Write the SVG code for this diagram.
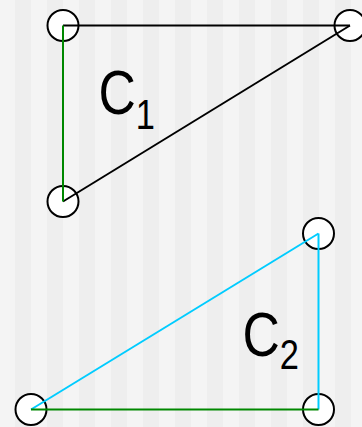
<svg xmlns="http://www.w3.org/2000/svg" width="362" height="427" viewBox="0 0 362 427">
<defs>
<pattern id="stripes" x="15" y="0" width="32" height="427" patternUnits="userSpaceOnUse">
<rect x="0" y="0" width="16" height="427" fill="#eeeeee"/>
<rect x="16" y="0" width="16" height="427" fill="#f4f4f4"/>
</pattern>
</defs>
<style>
.node{fill:#ffffff;stroke:#000000;stroke-width:2}
.lbl{font-family:"Liberation Sans",Arial,sans-serif;fill:#000000}
.big{font-size:63px}
.sub{font-size:42px}
.edge{fill:none;stroke-width:2}
</style>
<rect x="0" y="0" width="362" height="427" fill="url(#stripes)"/>
<g id="nodes-circles">
<g id="n1"><circle class="node" cx="63" cy="25.5" r="15.5"/></g>
<g id="n2"><circle class="node" cx="350" cy="25.5" r="15.5"/></g>
<g id="n3"><circle class="node" cx="63" cy="201.5" r="15.5"/></g>
<g id="n4"><circle class="node" cx="318.5" cy="233.5" r="15.5"/></g>
<g id="n5"><circle class="node" cx="31" cy="409.5" r="15.5"/></g>
<g id="n6"><circle class="node" cx="318.5" cy="409.5" r="15.5"/></g>
</g>
<g id="connectors">
<line class="edge" x1="63" y1="25.5" x2="350" y2="25.5" stroke="#000000"/>
<line class="edge" x1="350" y1="25.5" x2="63" y2="201.5" stroke="#000000"/>
<line class="edge" x1="63" y1="25.5" x2="63" y2="201.5" stroke="#008800"/>
<line class="edge" x1="318.5" y1="233.5" x2="31" y2="409.5" stroke="#00ccff"/>
<line class="edge" x1="318.5" y1="233.5" x2="318.5" y2="409.5" stroke="#00ccff"/>
<line class="edge" x1="31" y1="409.5" x2="318.5" y2="409.5" stroke="#008800"/>
</g>
<g id="label-c1" transform="translate(98.4,113.5) scale(0.82,1)"><text class="lbl big" x="0" y="0">C<tspan class="sub" y="15.5">1</tspan></text></g>
<g id="label-c2" transform="translate(242.4,356) scale(0.82,1)"><text class="lbl big" x="0" y="0">C<tspan class="sub" y="13">2</tspan></text></g>
</svg>
